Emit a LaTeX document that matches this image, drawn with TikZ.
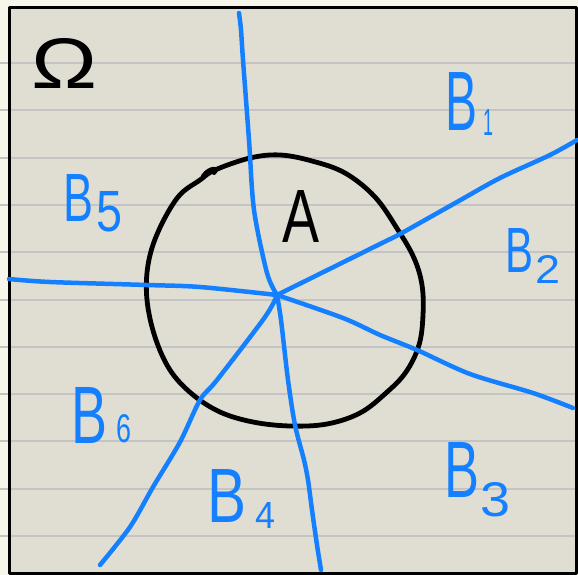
\documentclass[tikz,border=0pt]{standalone}
\usepackage{fontspec}
\setmainfont{Liberation Sans}
\definecolor{paper}{HTML}{E0DED2}
\definecolor{cream}{HTML}{F8F6EB}
\definecolor{rulegray}{HTML}{C4C4C4}
\definecolor{ink}{HTML}{1480FF}
\newcommand{\glyphbox}[3]{\resizebox{#1pt}{#2pt}{#3}}
\begin{document}
\begin{tikzpicture}[x=1pt,y=-1pt,line cap=round,line join=round,
  blueline/.style={draw=ink,line width=4.5pt},
  blacklabel/.style={inner sep=0pt,text=black},
  bluelabel/.style={inner sep=0pt,text=ink}]
\useasboundingbox (0,0) rectangle (578,575);
\fill[cream] (0,0) rectangle (578,575);
\fill[paper] (9.5,7.5) rectangle (578,575);
\foreach \k in {0,...,10}
  \draw[rulegray,line width=2pt] ({0},{63+47.3*\k}) -- ({578},{63+47.3*\k});
\draw[black,line width=3pt] (9.5,7.5) rectangle (576,573.5);

% set A
\draw[black,line width=4.8pt] plot[smooth cycle,tension=0.6] coordinates {
 (215,170) (250,158) (280,155) (312,161) (345,173) (375,197) (398,230)
 (414,258) (422,285) (423,315) (419,345) (406,372) (386,393) (360,413)
 (327,424) (290,426) (253,422) (220,412) (192,394) (170,370) (155,337)
 (147,300) (148,265) (158,232) (178,197) (200,180)};
\draw[black,line width=4pt] (203,176) .. controls (210,166) and (220,168) .. (214,173);

% partition lines
\coordinate (O) at (277,295);
\draw[blueline] plot[smooth] coordinates {(O) (267,273) (254,210) (249,140) (243,60) (241,30) (239,13)};
\draw[blueline] plot[smooth] coordinates {(O) (281,320) (288,380) (295,425) (304,460) (308,480) (312,510) (317,545) (321,570)};
\draw[blueline] plot[smooth] coordinates {(O) (200,287) (147,285) (50,282) (9,279)};
\draw[blueline] plot[smooth] coordinates {(O) (380,244) (400,234) (457,202) (500,178) (550,155) (577,140)};
\draw[blueline] plot[smooth] coordinates {(O) (343,318) (380,335) (417,350) (470,374) (533,393) (573,408)};
\draw[blueline] plot[smooth] coordinates {(O) (265,317) (217,380) (200,400) (180,442) (153,487) (130,527) (100,565)};

% labels
\node[blacklabel] (omega) at (65,63) {\glyphbox{66}{50}{Ω}};
\node[blacklabel] (A) at (301,216) {\glyphbox{37}{52}{A}};
\node[bluelabel] (B1) at (461,101) {\glyphbox{32}{58}{B}};
\node[bluelabel] (s1) at (488,122) {\glyphbox{10}{26}{1}};
\node[bluelabel] (B2) at (519,250) {\glyphbox{28}{44}{B}};
\node[bluelabel] (s2) at (548,269) {\glyphbox{25}{28}{2}};
\node[bluelabel] (B3) at (462,470) {\glyphbox{35}{55}{B}};
\node[bluelabel] (s3) at (495,500) {\glyphbox{30}{34}{3}};
\node[bluelabel] (B4) at (227,496) {\glyphbox{39}{53}{B}};
\node[bluelabel] (s4) at (265,515) {\glyphbox{20}{26}{4}};
\node[bluelabel] (B5) at (78,198) {\glyphbox{30}{47}{B}};
\node[bluelabel] (s5) at (110,212) {\glyphbox{26}{40}{5}};
\node[bluelabel] (B6) at (90,415) {\glyphbox{36}{56}{B}};
\node[bluelabel] (s6) at (124,429) {\glyphbox{15}{28}{6}};
\end{tikzpicture}
\end{document}
